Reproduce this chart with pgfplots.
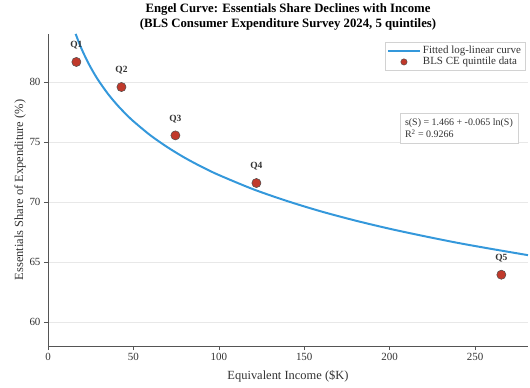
\documentclass[border=0pt]{standalone}
\usepackage{pgfplots}
\pgfplotsset{compat=1.18}
\usepackage{fontspec}
\setmainfont{Liberation Serif}
\definecolor{curveblue}{HTML}{3498DB}
\definecolor{ptred}{HTML}{C0392B}
\definecolor{spine}{HTML}{555555}
\definecolor{txt}{HTML}{333333}
\pgfplotstableread{
x y
16.2 84.01
17 83.70
18 83.33
19 82.98
20 82.65
22.5 81.89
25 81.21
27.5 80.59
30 80.03
35 79.03
40 78.17
45 77.41
50 76.73
60 75.55
70 74.56
80 73.69
90 72.93
100 72.25
120 71.07
140 70.08
160 69.21
180 68.45
200 67.77
220 67.16
240 66.59
260 66.08
281 65.57
}\fitcurve
\pgfplotstableread{
x y lab
16.6 81.67 Q1
43.0 79.58 Q2
74.6 75.55 Q3
122.0 71.58 Q4
265.4 63.94 Q5
}\quint
\begin{document}
\begin{tikzpicture}
\begin{axis}[
  name=ax,
  scale only axis,
  width=480bp, height=312bp,
  xmin=0, xmax=281, ymin=58, ymax=84,
  axis lines*=left,
  axis line style={spine, line width=0.8pt},
  xtick={0,50,100,150,200,250},
  ytick={60,65,70,75,80},
  tick align=outside,
  tick style={spine, line width=0.6pt},
  major tick length=4bp,
  ymajorgrids,
  grid style={gray!18, line width=0.5pt},
  /pgf/number format/assume math mode=true,
  tick label style={font=\fontsize{11}{13}\selectfont, text=txt},
  xlabel={Equivalent Income (\$K)},
  ylabel={Essentials Share of Expenditure (\%)},
  label style={font=\fontsize{12.5}{14}\selectfont, text=txt},
  xlabel style={yshift=-3bp},
  ylabel style={yshift=-3bp},
  title={\textbf{Engel Curve: Essentials Share Declines with Income}\\\textbf{(BLS Consumer Expenditure Survey 2024, 5 quintiles)}},
  title style={font=\fontsize{12.8}{15}\selectfont, align=center, yshift=-6bp},
  legend style={at={(0.994,0.974)}, anchor=north east, draw=gray!35, font=\fontsize{11}{12}\selectfont, text=txt, inner sep=2pt, row sep=-2pt, cells={anchor=west}},
  legend cell align=left,
  legend image code/.code={\draw[#1] (0bp,0bp) -- (32bp,0bp);},
  clip=true,
]
\addplot[curveblue, line width=2pt, smooth] table[x=x,y=y]{\fitcurve};
\addlegendentry{Fitted log-linear curve}
\addplot[only marks, mark=*, mark size=4.6pt, mark options={fill=ptred, draw=black!70, line width=0.5pt},
  legend image code/.code={\draw[mark size=3.2pt, mark options={fill=ptred, draw=black!70}] plot coordinates {(16bp,0bp)};},
  nodes near coords, point meta=explicit symbolic,
  nodes near coords style={font=\fontsize{9.5}{11}\selectfont\bfseries, text=txt, anchor=south, yshift=9bp}]
  table[x=x,y=y,meta=lab]{\quint};
\addlegendentry{BLS CE quintile data}
\node[draw=gray!35, fill=white, anchor=north west, align=left, font=\fontsize{10}{13}\selectfont, text=txt, inner sep=5pt] at (rel axis cs:0.733,0.747) {s(S) = 1.466 + -0.065 ln(S)\\R\textsuperscript{2} = 0.9266};
\end{axis}
\pgfresetboundingbox
\path ([shift={(-48bp,-42bp)}]ax.south west) rectangle ([shift={(2bp,34bp)}]ax.north east);
\end{tikzpicture}
\end{document}
